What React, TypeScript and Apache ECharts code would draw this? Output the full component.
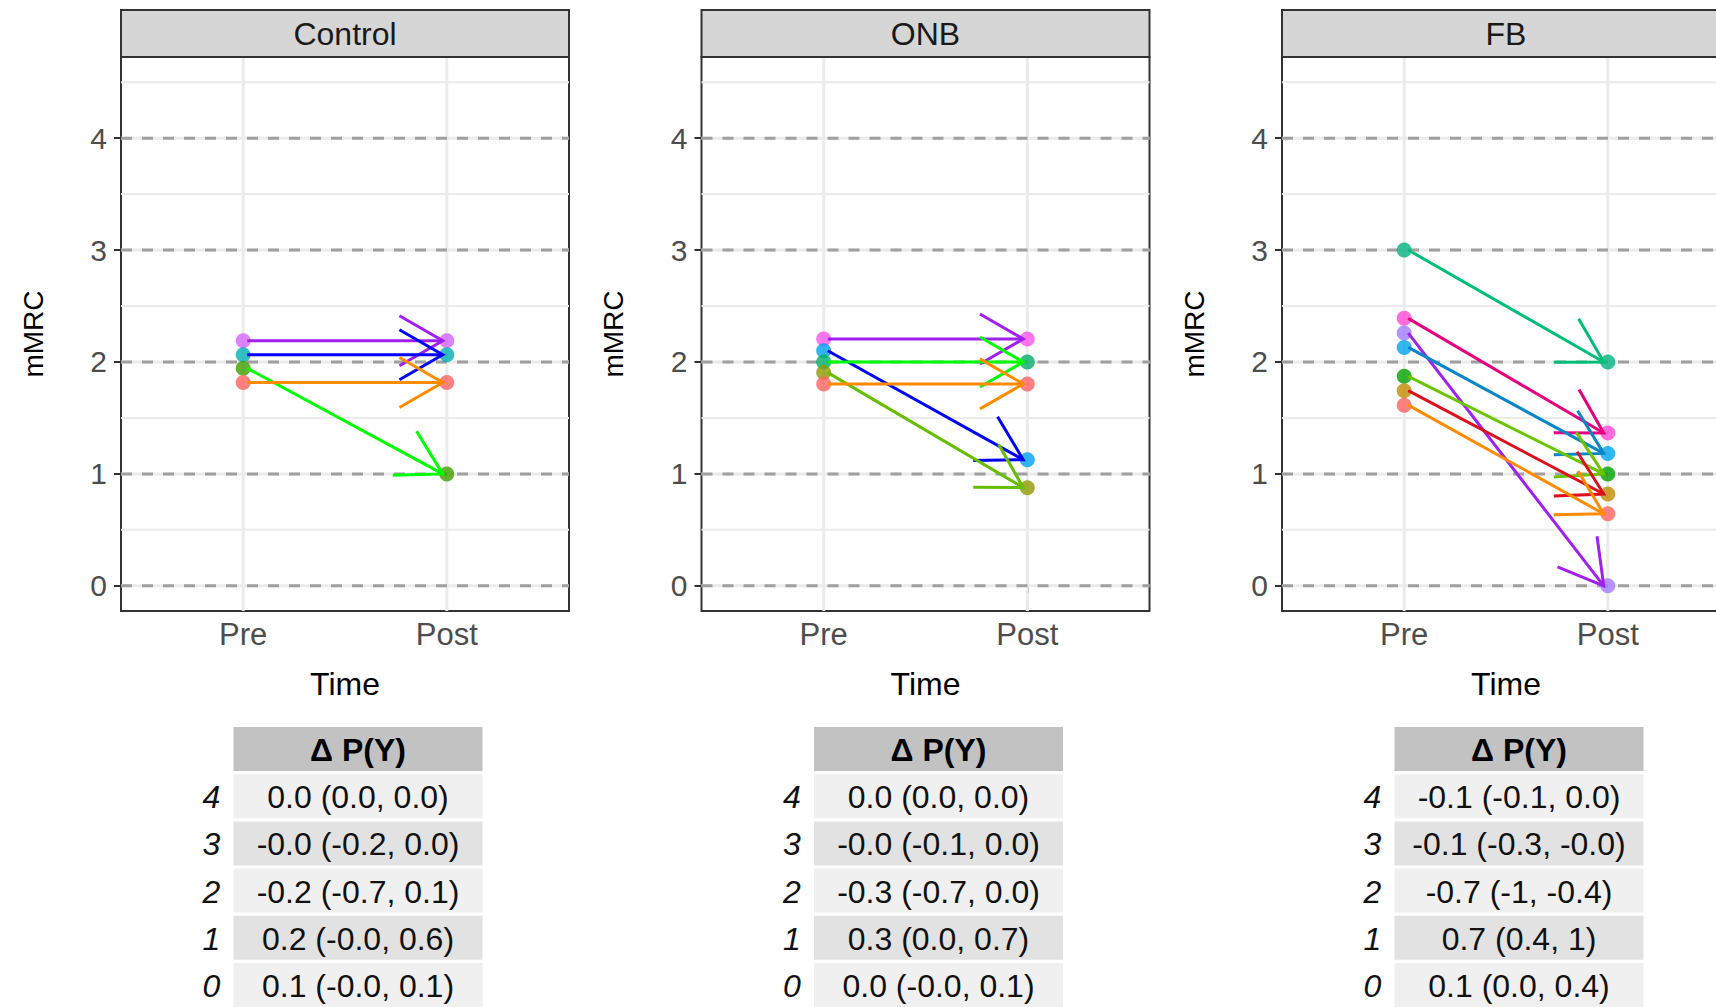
import React, { useEffect, useRef } from "react";
import * as echarts from "echarts";

// ---------- data ----------
const panelNames = ["Control", "ONB", "FB"];
const timeLabels = ["Pre", "Post"];
const yTicks = [0, 1, 2, 3, 4];
const yMinor = [0.5, 1.5, 2.5, 3.5, 4.5];
const xTicks = [1, 2];

const controlPre = [2.19, 2.065, 1.944, 1.816];
const controlPost = [2.19, 2.065, 1.0, 1.816];
const controlPointColors = ["#D464FF", "#00AFB4", "#3F9F00", "#FF6363"];
const controlArrowColors = ["#A020F0", "#0000FF", "#00FF00", "#FF8C00"];

const onbPre = [2.205, 2.1, 2.0, 1.905, 1.804];
const onbPost = [2.205, 1.127, 2.0, 0.877, 1.804];
const onbPointColors = ["#FA55E8", "#00A3F0", "#00AE68", "#8E9A00", "#FF6363"];
const onbArrowColors = ["#A020F0", "#0000FF", "#00FF00", "#66BE00", "#FF8C00"];

const fbPre = [3.0, 2.39, 2.258, 2.13, 1.872, 1.744, 1.614];
const fbPost = [2.0, 1.365, 0.0, 1.183, 1.0, 0.82, 0.643];
const fbPointColors = ["#00B381", "#FF48D6", "#A57AFF", "#00A5EB", "#00A300", "#C28A00", "#FF6363"];
const fbArrowColors = ["#00BE78", "#E6007E", "#A020F0", "#0A86C8", "#6CC300", "#DD1020", "#FF8C00"];

const tableHeader = "Δ P(Y)";
const tableLevels = ["4", "3", "2", "1", "0"];
const controlDelta = ["0.0 (0.0, 0.0)", "-0.0 (-0.2, 0.0)", "-0.2 (-0.7, 0.1)", "0.2 (-0.0, 0.6)", "0.1 (-0.0, 0.1)"];
const onbDelta = ["0.0 (0.0, 0.0)", "-0.0 (-0.1, 0.0)", "-0.3 (-0.7, 0.0)", "0.3 (0.0, 0.7)", "0.0 (-0.0, 0.1)"];
const fbDelta = ["-0.1 (-0.1, 0.0)", "-0.1 (-0.3, -0.0)", "-0.7 (-1, -0.4)", "0.7 (0.4, 1)", "0.1 (0.0, 0.4)"];

// ---------- layout ----------
const FONT = "Liberation Sans, Arial, Helvetica, sans-serif";
const PANEL_LEFT = 121;
const PANEL_PITCH = 580.5;
const PANEL_TOP = 57;
const PANEL_W = 448;
const PANEL_H = 554;
const STRIP_TOP = 10;
const TABLE_LEFT = 233.5;
const TABLE_W = 249;
const TABLE_TOP = 727;
const ROW_H = 44;
const ROW_PITCH = 47.2;
const ARROW_X0 = 1.02;
const ARROW_X1 = 1.98;

const panels = [
  { pre: controlPre, post: controlPost, pc: controlPointColors, ac: controlArrowColors, delta: controlDelta },
  { pre: onbPre, post: onbPost, pc: onbPointColors, ac: onbArrowColors, delta: onbDelta },
  { pre: fbPre, post: fbPost, pc: fbPointColors, ac: fbArrowColors, delta: fbDelta },
];

function buildOption() {
  const grid: any[] = [];
  const xAxis: any[] = [];
  const yAxis: any[] = [];
  const series: any[] = [];
  const graphic: any[] = [];

  panels.forEach((p, i) => {
    const left = PANEL_LEFT + PANEL_PITCH * i;
    grid.push({
      left,
      top: PANEL_TOP,
      width: PANEL_W,
      height: PANEL_H,
      show: true,
      backgroundColor: "#FFFFFF",
      borderColor: "#333333",
      borderWidth: 2,
      containLabel: false,
      outerBoundsMode: "none",
    });
    xAxis.push({
      gridIndex: i,
      type: "value",
      min: 0.4,
      max: 2.6,
      axisLine: { show: false },
      splitLine: { show: false },
      axisTick: { show: true, customValues: xTicks, length: 7, lineStyle: { color: "#333333", width: 2 } },
      axisLabel: {
        customValues: xTicks,
        formatter: (v: number) => timeLabels[Math.round(v) - 1] || "",
        fontSize: 31,
        color: "#4D4D4D",
        margin: 8,
        fontFamily: FONT,
      },
      name: "Time",
      nameLocation: "middle",
      nameGap: 57,
      nameTextStyle: { fontSize: 32, color: "#000000", fontFamily: FONT },
    });
    yAxis.push({
      gridIndex: i,
      type: "value",
      min: -0.225,
      max: 4.725,
      axisLine: { show: false },
      splitLine: { show: false },
      axisTick: { show: true, customValues: yTicks, length: 7, lineStyle: { color: "#333333", width: 2 } },
      axisLabel: { customValues: yTicks, fontSize: 30, color: "#4D4D4D", margin: 14, fontFamily: FONT },
      name: "mMRC",
      nameLocation: "middle",
      nameRotate: 90,
      nameGap: 74,
      nameTextStyle: { fontSize: 28, color: "#000000", fontFamily: FONT },
    });

    // minor horizontal gridlines
    series.push({
      type: "custom",
      xAxisIndex: i,
      yAxisIndex: i,
      silent: true,
      z: 1,
      data: yMinor.map((v) => [1, v]),
      renderItem: (params: any, api: any) => {
        const cs = params.coordSys;
        const y = api.coord([1, api.value(1)])[1];
        return {
          type: "line",
          shape: { x1: cs.x, y1: y, x2: cs.x + cs.width, y2: y },
          style: { stroke: "#EBEBEB", lineWidth: 2 },
        };
      },
    });
    // major vertical gridlines
    series.push({
      type: "custom",
      xAxisIndex: i,
      yAxisIndex: i,
      silent: true,
      z: 1,
      data: xTicks.map((v) => [v, 0]),
      renderItem: (params: any, api: any) => {
        const cs = params.coordSys;
        const x = api.coord([api.value(0), 0])[0];
        return {
          type: "line",
          shape: { x1: x, y1: cs.y, x2: x, y2: cs.y + cs.height },
          style: { stroke: "#EBEBEB", lineWidth: 3 },
        };
      },
    });
    // major horizontal gridlines + dashed reference lines
    series.push({
      type: "custom",
      xAxisIndex: i,
      yAxisIndex: i,
      silent: true,
      z: 1,
      data: yTicks.map((v) => [1, v]),
      renderItem: (params: any, api: any) => {
        const cs = params.coordSys;
        const y = api.coord([1, api.value(1)])[1];
        return {
          type: "group",
          children: [
            {
              type: "line",
              shape: { x1: cs.x, y1: y, x2: cs.x + cs.width, y2: y },
              style: { stroke: "#EBEBEB", lineWidth: 3 },
            },
            {
              type: "line",
              shape: { x1: cs.x, y1: y, x2: cs.x + cs.width, y2: y },
              style: { stroke: "#A0A0A0", lineWidth: 3, lineDash: [11, 10] },
            },
          ],
        };
      },
    });

    // points
    const pts: any[] = [];
    p.pre.forEach((v, k) => pts.push({ value: [1, v], itemStyle: { color: p.pc[k] } }));
    p.post.forEach((v, k) => pts.push({ value: [2, v], itemStyle: { color: p.pc[k] } }));
    series.push({
      type: "scatter",
      xAxisIndex: i,
      yAxisIndex: i,
      symbolSize: 15,
      z: 3,
      silent: true,
      data: pts,
    });

    // arrows
    const colors = p.ac;
    series.push({
      type: "custom",
      xAxisIndex: i,
      yAxisIndex: i,
      silent: true,
      z: 4,
      data: p.pre.map((v, k) => [v, p.post[k]]),
      renderItem: (params: any, api: any) => {
        const c = colors[params.dataIndex];
        const p0 = api.coord([ARROW_X0, api.value(0)]);
        const p1 = api.coord([ARROW_X1, api.value(1)]);
        const ang = Math.atan2(p0[1] - p1[1], p0[0] - p1[0]);
        const L = 50;
        const a = Math.PI / 6;
        const h1 = [p1[0] + L * Math.cos(ang + a), p1[1] + L * Math.sin(ang + a)];
        const h2 = [p1[0] + L * Math.cos(ang - a), p1[1] + L * Math.sin(ang - a)];
        return {
          type: "group",
          children: [
            {
              type: "line",
              shape: { x1: p0[0], y1: p0[1], x2: p1[0], y2: p1[1] },
              style: { stroke: c, lineWidth: 3 },
            },
            {
              type: "polyline",
              shape: { points: [h1, p1, h2] },
              style: { stroke: c, lineWidth: 3, fill: "none" },
            },
          ],
        };
      },
    });

    // strip
    graphic.push({
      type: "rect",
      shape: { x: left, y: STRIP_TOP, width: PANEL_W, height: PANEL_TOP - STRIP_TOP },
      style: { fill: "#D6D6D6", stroke: "#333333", lineWidth: 2 },
      z: 10,
    });
    graphic.push({
      type: "text",
      x: left + PANEL_W / 2,
      y: (STRIP_TOP + PANEL_TOP) / 2,
      style: { text: panelNames[i], fontSize: 32, fill: "#1A1A1A", fontFamily: FONT, align: "center", verticalAlign: "middle" },
      z: 11,
    });

    // table
    const tl = TABLE_LEFT + PANEL_PITCH * i;
    graphic.push({
      type: "rect",
      shape: { x: tl, y: TABLE_TOP, width: TABLE_W, height: ROW_H },
      style: { fill: "#C2C2C2" },
    });
    graphic.push({
      type: "text",
      x: tl + TABLE_W / 2,
      y: TABLE_TOP + ROW_H / 2 + 1,
      style: { text: tableHeader, fontSize: 32, fontWeight: "bold", fill: "#000000", fontFamily: FONT, align: "center", verticalAlign: "middle" },
    });
    tableLevels.forEach((lv, r) => {
      const ry = TABLE_TOP + ROW_PITCH * (r + 1);
      graphic.push({
        type: "rect",
        shape: { x: tl, y: ry, width: TABLE_W, height: ROW_H },
        style: { fill: r % 2 === 0 ? "#F0F0F0" : "#E2E2E2" },
      });
      graphic.push({
        type: "text",
        x: tl + TABLE_W / 2,
        y: ry + ROW_H / 2 + 1,
        style: { text: p.delta[r], fontSize: 32, fill: "#111111", fontFamily: FONT, align: "center", verticalAlign: "middle" },
      });
      graphic.push({
        type: "text",
        x: tl - 22,
        y: ry + ROW_H / 2 + 1,
        style: { text: lv, fontSize: 32, fontStyle: "italic", fill: "#111111", fontFamily: FONT, align: "center", verticalAlign: "middle" },
      });
    });
  });

  return {
    animation: false,
    backgroundColor: "#FFFFFF",
    textStyle: { fontFamily: FONT },
    grid,
    xAxis,
    yAxis,
    series,
    graphic: { elements: graphic },
  };
}

export default function App() {
  const ref = useRef<HTMLDivElement>(null);
  useEffect(() => {
    if (!ref.current) return;
    const chart = echarts.init(ref.current, undefined, { renderer: "svg" });
    chart.setOption(buildOption() as any);
    return () => chart.dispose();
  }, []);
  return (
    <div
      ref={ref}
      style={{ position: "fixed", left: 0, top: 0, width: 1716, height: 1007, background: "#fff" }}
    />
  );
}
